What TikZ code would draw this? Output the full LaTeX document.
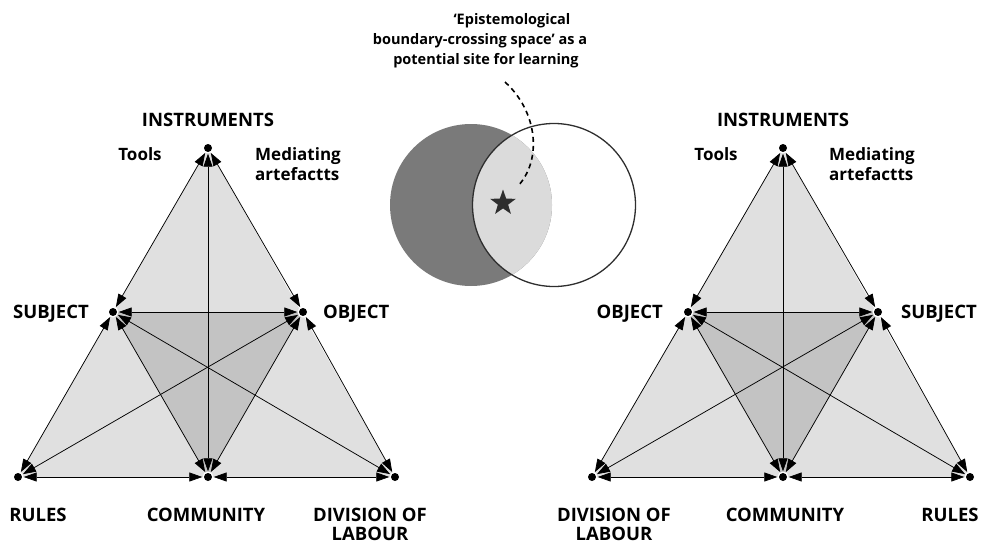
\documentclass[tikz,border=0pt]{standalone}
\usepackage{fontspec}
\setmainfont{Open Sans}
\usetikzlibrary{arrows.meta,shapes.geometric}
\definecolor{trilight}{HTML}{E0E0E0}
\definecolor{tridark}{HTML}{C3C3C3}
\definecolor{venndark}{HTML}{7A7A7A}
\definecolor{vennlight}{HTML}{DBDBDB}
\definecolor{ink}{HTML}{2E2E2E}
\begin{document}
\begin{tikzpicture}[x=1pt,y=-1pt,
  vtx/.style={circle,minimum size=11pt,inner sep=0pt,fill=white},
  dot/.style={fill=black},
  conn/.style={{Triangle[length=13pt,width=9pt]}-{Triangle[length=13pt,width=9pt]}, line width=0.75pt},
  lab/.style={font=\bfseries\fontsize{18.5}{19}\selectfont, inner sep=0pt},
  small/.style={font=\bfseries\fontsize{17}{20}\selectfont, inner sep=0pt},
  note/.style={font=\bfseries\fontsize{14.5}{20}\selectfont, inner sep=0pt},
]
\useasboundingbox (0,0) rectangle (982,543);

% ---------- left triangle ----------
\fill[trilight] (208,148) -- (18,477) -- (395,477) -- cycle;
\fill[tridark] (113,312) -- (303,312) -- (208,477) -- cycle;
\node[vtx] (T1) at (208,148) {};
\node[vtx] (S1) at (113,312) {};
\node[vtx] (O1) at (303,312) {};
\node[vtx] (R1) at (18,477) {};
\node[vtx] (C1) at (208,477) {};
\node[vtx] (D1) at (395,477) {};
\foreach \a/\b in {T1/S1,T1/O1,T1/C1,S1/O1,S1/R1,S1/C1,S1/D1,O1/R1,O1/C1,O1/D1,R1/C1,C1/D1}
  \draw[conn] (\a) -- (\b);
\foreach \n in {T1,S1,O1,R1,C1,D1}
  \fill[dot] (\n.center) circle[radius=4pt];
\node[lab,anchor=base] (i1) at (208,126) {INSTRUMENTS};
\node[small,anchor=base] (t1) at (140,160) {Tools};
\node[small,anchor=base west,align=left] (m1) at (255,180) {Mediating\\artefactts};
\node[lab,anchor=base east] (s1) at (89,318) {SUBJECT};
\node[lab,anchor=base west] (o1) at (323,318) {OBJECT};
\node[lab,anchor=base] (r1) at (38,521) {RULES};
\node[lab,anchor=base] (c1) at (206,521) {COMMUNITY};
\node[lab,anchor=base,align=center] (d1) at (370,540) {DIVISION OF\\LABOUR};

% ---------- right triangle ----------
\fill[trilight] (783,148) -- (592,477) -- (970,477) -- cycle;
\fill[tridark] (688,312) -- (878,312) -- (783,477) -- cycle;
\node[vtx] (T2) at (783,148) {};
\node[vtx] (O2) at (688,312) {};
\node[vtx] (S2) at (878,312) {};
\node[vtx] (D2) at (592,477) {};
\node[vtx] (C2) at (783,477) {};
\node[vtx] (R2) at (970,477) {};
\foreach \a/\b in {T2/S2,T2/O2,T2/C2,S2/O2,S2/R2,S2/C2,S2/D2,O2/R2,O2/C2,O2/D2,R2/C2,C2/D2}
  \draw[conn] (\a) -- (\b);
\foreach \n in {T2,S2,O2,R2,C2,D2}
  \fill[dot] (\n.center) circle[radius=4pt];
\node[lab,anchor=base] (i2) at (783,126) {INSTRUMENTS};
\node[small,anchor=base] (t2) at (716,160) {Tools};
\node[small,anchor=base west,align=left] (m2) at (829,180) {Mediating\\artefactts};
\node[lab,anchor=base east] (o2) at (663,318) {OBJECT};
\node[lab,anchor=base west] (s2) at (901,318) {SUBJECT};
\node[lab,anchor=base,align=center] (d2) at (614,540) {DIVISION OF\\LABOUR};
\node[lab,anchor=base] (c2) at (785,521) {COMMUNITY};
\node[lab,anchor=base] (r2) at (950,521) {RULES};

% ---------- Venn ----------
\fill[venndark] (471,205) circle[radius=81pt];
\begin{scope}
  \clip (554,205) circle[radius=81.5pt];
  \fill[vennlight] (471,205) circle[radius=81pt];
\end{scope}
\draw[ink,line width=1.3pt] (554,205) circle[radius=81.5pt];
\node[star,star points=5,star point ratio=2.5,fill=ink,minimum size=27pt,inner sep=0pt] (st) at (503,203) {};
\coordinate (ds) at (505,82);
\coordinate (de) at (518,186);
\draw[black,line width=1.6pt,dash pattern=on 5pt off 4pt] (ds) .. controls (538,112) and (542,160) .. (de);

\node[note,anchor=base] (q1) at (512,25) {‘Epistemological};
\node[note,anchor=base] (q2) at (480,45) {boundary-crossing space’ as a};
\node[note,anchor=base] (q3) at (486,65) {potential site for learning};
\end{tikzpicture}
\end{document}
